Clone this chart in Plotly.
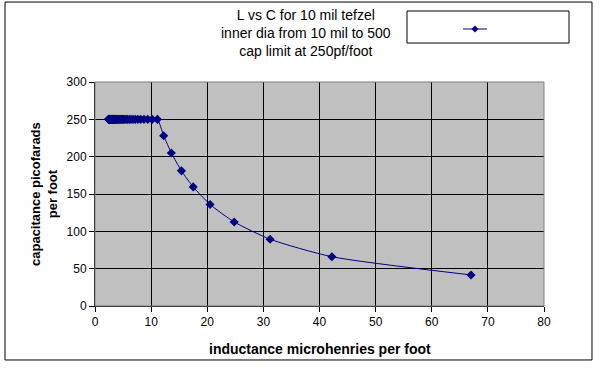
import plotly.graph_objects as go

# inductance (x) and capacitance (y) values
inductance = [2.39, 2.44, 2.49, 2.54, 2.60, 2.65, 2.71, 2.77, 2.84, 2.90,
              2.98, 3.05, 3.13, 3.21, 3.30, 3.39, 3.49, 3.59, 3.70, 3.81,
              3.94, 4.07, 4.21, 4.36, 4.52, 4.69, 4.88, 5.08, 5.31, 5.55,
              5.81, 6.10, 6.42, 6.78, 7.18, 7.63, 8.14, 8.73, 9.40, 10.19,
              11.12, 12.24, 13.60, 15.40, 17.50, 20.50, 24.80, 31.20, 42.20, 67.00]
capacitance = [250] * 41 + [228, 205, 181, 159.5, 136, 112.6, 89.4, 66, 41.6]

x_ticks = [0, 10, 20, 30, 40, 50, 60, 70, 80]
y_ticks = [0, 50, 100, 150, 200, 250, 300]

title_lines = ["L vs C for 10 mil tefzel", "inner dia from 10 mil to 500", "cap limit at 250pf/foot"]
x_title = "inductance microhenries per foot"
y_title = "capacitance picofarads<br>per foot"

NAVY = "#000080"
FONT = "Liberation Sans, Arial, sans-serif"

fig = go.Figure()
fig.add_trace(go.Scatter(
    x=inductance, y=capacitance, mode="lines+markers",
    line=dict(color=NAVY, width=1, shape="spline", smoothing=0.6),
    marker=dict(symbol="diamond", size=7, color=NAVY),
    showlegend=False, hoverinfo="x+y",
))

axis_common = dict(
    showgrid=True, gridcolor="black", gridwidth=1,
    showline=True, linecolor="black", linewidth=1,
    ticks="outside", ticklen=5, tickcolor="black",
    tickfont=dict(family=FONT, size=12, color="black"),
    zeroline=False, fixedrange=True,
)
fig.update_xaxes(range=[0, 80], tickvals=x_ticks, ticktext=[str(v) for v in x_ticks], **axis_common)
fig.update_yaxes(range=[0, 300], tickvals=y_ticks, ticktext=[str(v) for v in y_ticks], **axis_common)

fig.update_layout(
    width=600, height=370,
    margin=dict(l=95, r=56, t=82, b=64),
    paper_bgcolor="white", plot_bgcolor="#C0C0C0",
    font=dict(family=FONT, color="black"),
    showlegend=False,
)

annotations = [
    dict(text="<br>".join(title_lines), x=0.47, y=1.219, xref="paper", yref="paper",
         xanchor="center", yanchor="middle", showarrow=False,
         font=dict(family=FONT, size=14, color="black")),
    dict(text="<b>" + x_title + "</b>", x=0.501, y=-0.192, xref="paper", yref="paper",
         xanchor="center", yanchor="middle", showarrow=False,
         font=dict(family=FONT, size=14, color="black")),
    dict(text="<b>" + y_title + "</b>", x=-0.1136, y=0.5, xref="paper", yref="paper",
         xanchor="center", yanchor="middle", showarrow=False, textangle=-90,
         font=dict(family=FONT, size=13, color="black")),
]
fig.update_layout(annotations=annotations)

shapes = [
    # plot area border
    dict(type="rect", xref="paper", yref="paper", x0=0, x1=1, y0=0, y1=1,
         line=dict(color="#808080", width=1), layer="above"),
    # chart area border
    dict(type="rect", xref="paper", yref="paper", x0=-0.2004, x1=1.1069, y0=-0.241, y1=1.357,
         line=dict(color="black", width=1)),
    # legend box
    dict(type="rect", xref="paper", yref="paper", x0=0.6949, x1=1.0557, y0=1.174, y1=1.317,
         line=dict(color="black", width=1), fillcolor="white"),
    dict(type="line", xref="paper", yref="paper", x0=0.8196, x1=0.8731, y0=1.2366, y1=1.2366,
         line=dict(color=NAVY, width=1)),
    dict(type="path", xref="paper", yref="paper",
         path="M 0.8463 1.2522 L 0.8541 1.2366 L 0.8463 1.2210 L 0.8385 1.2366 Z",
         fillcolor=NAVY, line=dict(color=NAVY, width=0)),
]
fig.update_layout(shapes=shapes)

fig.write_html("out.html", config={"displayModeBar": False},
               post_script="document.body.style.margin='0';document.body.style.padding='0';")
